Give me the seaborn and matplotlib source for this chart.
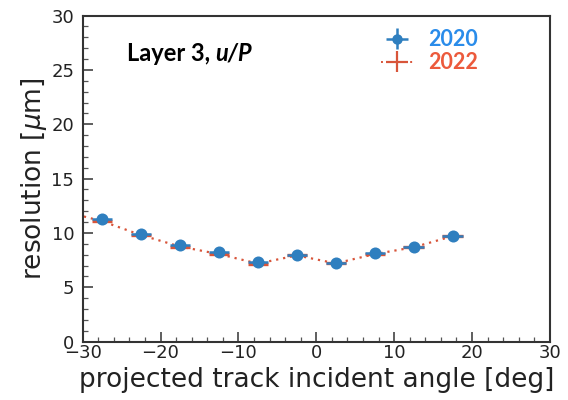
import matplotlib
matplotlib.use("Agg")
import matplotlib.pyplot as plt
import seaborn as sns
import numpy as np
import pandas as pd
from matplotlib.offsetbox import TextArea, HPacker, AnchoredOffsetbox
from matplotlib.lines import Line2D

# data
angle_2020 = [-27.5, -22.5, -17.5, -12.5, -7.5, -2.5, 2.5, 7.5, 12.5, 17.5]
res_2020 = [11.26, 9.91, 8.87, 8.22, 7.30, 7.98, 7.27, 8.13, 8.74, 9.75]
angle_2022 = [-32.5, -27.5, -22.5, -17.5, -12.5, -7.5, -2.5, 2.5, 7.5, 12.5, 17.5]
res_2022 = [12.0, 11.08, 9.80, 8.75, 8.05, 7.18, 7.93, 7.20, 8.05, 8.68, 9.70]
xerr_half = 1.3
yerr_2020 = 0.12
yerr_2022 = 0.08

df20 = pd.DataFrame({"angle": angle_2020, "res": res_2020})
df22 = pd.DataFrame({"angle": angle_2022, "res": res_2022})

sns.set_style("ticks")
plt.rcParams['font.family'] = ['DejaVu Sans']

blue = "#2f7fbf"
red = "#d8553a"

fig = plt.figure(figsize=(5.68, 4.0), dpi=100)
ax = fig.add_axes([0.1456, 0.146, 0.968 - 0.1456, 0.961 - 0.146])

# 2022: dotted line with horizontal bars
sns.lineplot(data=df22, x="angle", y="res", ax=ax, color=red, linestyle=(0, (1, 2.2)),
             linewidth=1.6, zorder=2, legend=False)
ax.errorbar(df22["angle"], df22["res"], xerr=xerr_half, yerr=yerr_2022, fmt="none",
            ecolor=red, elinewidth=2.4, capsize=0, zorder=3)
# 2020: circle markers with bars
ax.errorbar(df20["angle"], df20["res"], xerr=xerr_half, yerr=yerr_2020, fmt="none",
            ecolor=blue, elinewidth=1.8, capsize=0, zorder=4)
sns.scatterplot(data=df20, x="angle", y="res", ax=ax, color=blue, s=75, edgecolor=blue,
                linewidth=0, zorder=5, legend=False)

ax.set_xlim(-30, 30)
ax.set_ylim(0, 30)
ax.set_xticks(np.arange(-30, 31, 10))
ax.set_yticks(np.arange(0, 31, 5))
ax.set_xticks(np.arange(-30, 31, 2), minor=True)
ax.set_yticks(np.arange(0, 31, 1), minor=True)
ax.tick_params(which="major", direction="in", length=7, width=1.1, labelsize=13,
               colors="#333333", labelcolor="#222222")
ax.tick_params(axis="y", which="major", pad=6)
ax.tick_params(axis="x", which="major", pad=2)
ax.tick_params(which="minor", direction="in", length=3.5, width=0.9, colors="#555555")
for s in ax.spines.values():
    s.set_linewidth(1.5)
    s.set_color("#333333")

ax.set_xlabel("projected track incident angle [deg]", fontsize=19, color="#222222", labelpad=3)
ax.set_ylabel(r"resolution [$\mu$m]", fontsize=19, color="#222222", labelpad=2)

# legend handles
h20 = ax.errorbar([], [], xerr=[], yerr=[], fmt="o", color=blue, ms=6.5, elinewidth=1.8,
                  capsize=0)
h22 = ax.errorbar([], [], xerr=[], yerr=[], fmt="none", ecolor=red, elinewidth=1.6, capsize=0)
line22 = Line2D([], [], color=red, linestyle=(0, (1, 2)), linewidth=1.4)
leg = ax.legend([h20, (line22, h22)], ["2020", "2022"], loc="upper left",
                bbox_to_anchor=(0.62, 0.985), frameon=False, handlelength=1.5,
                handletextpad=0.7, labelspacing=0.1, borderaxespad=0,
                prop={"family": "Lato", "weight": "bold", "size": 15.5})
leg.get_texts()[0].set_color("#2a8cea")
leg.get_texts()[1].set_color("#ec5a3c")

# label "Layer 3, u/P"
t1 = TextArea("Layer 3, ", textprops=dict(family="Lato", weight="bold", size=17, color="black"))
t2 = TextArea("u/P", textprops=dict(family="Lato", weight="bold", style="italic", size=17,
                                    color="black"))
box = HPacker(children=[t1, t2], align="baseline", pad=0, sep=0)
ab = AnchoredOffsetbox(loc="center left", child=box, frameon=False,
                       bbox_to_anchor=(0.094, 0.885), bbox_transform=ax.transAxes, pad=0,
                       borderpad=0)
ax.add_artist(ab)

fig.savefig("out.png", dpi=100)
